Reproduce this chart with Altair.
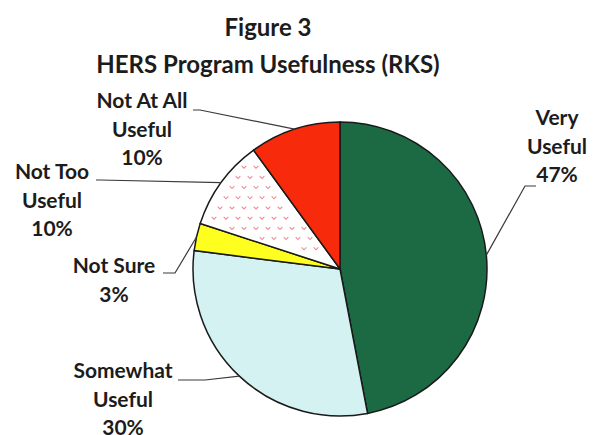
import math
import altair as alt
import pandas as pd

# ---- data ----
categories = ["Very Useful", "Somewhat Useful", "Not Sure", "Not Too Useful", "Not At All Useful"]
values = [47, 30, 3, 10, 10]
label_names = ["Very\nUseful", "Somewhat\nUseful", "Not Sure", "Not Too\nUseful", "Not At All\nUseful"]
title_lines = ["Figure 3", "HERS Program Usefulness (RKS)"]

# ---- styles / layout ----
colors = ["#1c6a44", "#d4f2f2", "#ffff1f", "#ffffff", "#f82a0c"]
PATTERN_CAT = "Not Too Useful"
PATTERN_COLOR = "#f08a96"
FONT = "Lato"
TEXT_COLOR = "#1c1c1c"
W, H_TOTAL, PAD_TOP = 581, 427, 90
H = H_TOTAL - PAD_TOP
OX, OY = 8, 8 + PAD_TOP          # page offset of plot origin
CX, CY, R = 340 - OX, 269 - OY, 147

# label anchor (page coords: centre x, first baseline) and leader elbow / end
label_pos = {
    "Very Useful": (557, 125),
    "Somewhat Useful": (123, 378),
    "Not Sure": (114, 273),
    "Not Too Useful": (52, 179),
    "Not At All Useful": (142, 108),
}
leader_pts = {
    "Very Useful": [(525, 186), (536, 186)],
    "Somewhat Useful": [(205, 380), (178, 380)],
    "Not Sure": [(175, 273), (163, 273)],
    "Not Too Useful": [(100, 180), (96, 180)],
    "Not At All Useful": [(200, 110), (193, 110)],
}

total = sum(values)
df = pd.DataFrame({"category": categories, "value": values, "order": list(range(len(values)))})

lab_rows, line_rows = [], []
cum = 0
slice_range = {}
for cat, v, name in zip(categories, values, label_names):
    a0 = cum / total * 2 * math.pi
    cum += v
    a1 = cum / total * 2 * math.pi
    slice_range[cat] = (a0, a1)
    mid = (a0 + a1) / 2
    ex = CX + R * math.sin(mid)
    ey = CY - R * math.cos(mid)
    lx, ly = label_pos[cat]
    lab_rows.append({"category": cat, "x": lx - OX, "y": ly - OY, "text": f"{name}\n{round(v / total * 100)}%"})
    pts = [(ex, ey)] + [(px - OX, py - OY) for px, py in leader_pts[cat]]
    for i, (px, py) in enumerate(pts):
        line_rows.append({"category": cat, "i": i, "x": px, "y": py})
labels_df = pd.DataFrame(lab_rows)
lines_df = pd.DataFrame(line_rows)

# decorative hatch texture (chevrons) inside the patterned slice
a0, a1 = slice_range[PATTERN_CAT]
tex_rows = []
step = 12
for row in range(-14, 15):
    for col in range(-14, 15):
        px = col * step + (step / 2 if row % 2 else 0)
        py = row * step * 0.85
        rr = math.hypot(px, py)
        if rr < 14 or rr > R - 6:
            continue
        ang = math.atan2(px, -py) % (2 * math.pi)
        margin = 5 / rr
        if a0 + margin < ang < a1 - margin:
            tex_rows.append({"x": CX + px, "y": CY + py})
tex_df = pd.DataFrame(tex_rows)

pie = alt.Chart(df).mark_arc(radius=R, stroke="#1a1a1a", strokeWidth=1.5).encode(
    theta=alt.Theta("value:Q", stack=True),
    order=alt.Order("order:Q"),
    color=alt.Color("category:N", scale=alt.Scale(domain=categories, range=colors), legend=None),
    x=alt.value(CX),
    y=alt.value(CY),
)

texture = alt.Chart(tex_df).mark_point(
    shape="M-1,-0.5L0,0.5L1,-0.5", filled=False, size=22,
    stroke=PATTERN_COLOR, strokeWidth=1.1, opacity=1,
).encode(
    x=alt.X("x:Q", scale=None, axis=None),
    y=alt.Y("y:Q", scale=None, axis=None),
)

leaders = alt.Chart(lines_df).mark_line(color="#3a3a3a", strokeWidth=1.2).encode(
    x=alt.X("x:Q", scale=None, axis=None),
    y=alt.Y("y:Q", scale=None, axis=None),
    detail="category:N",
    order="i:Q",
)

labels = alt.Chart(labels_df).mark_text(
    lineBreak="\n", lineHeight=28.5, align="center", baseline="alphabetic",
    font=FONT, fontSize=21, fontWeight="bold", color=TEXT_COLOR,
).encode(
    x=alt.X("x:Q", scale=None, axis=None),
    y=alt.Y("y:Q", scale=None, axis=None),
    text="text:N",
)

chart = alt.layer(pie, texture, leaders, labels).properties(
    width=W, height=H,
    autosize=alt.AutoSizeParams(type="none"),
    padding={"left": 0, "top": PAD_TOP, "right": 0, "bottom": 0},
    title=alt.TitleParams(
        text=title_lines, font=FONT, fontSize=24, fontWeight="bold", color=TEXT_COLOR,
        lineHeight=37, anchor="start", align="center", dx=268 - OX, offset=13,
    ),
).configure_view(stroke=None)

chart.save("out.html", embed_options={"renderer": "svg", "actions": False})
